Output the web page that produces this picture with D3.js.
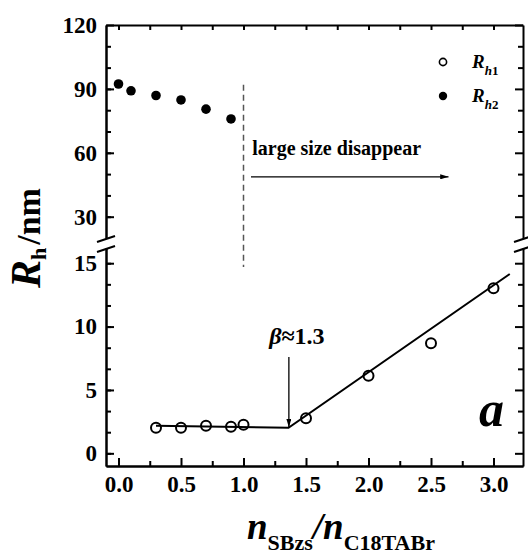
<!DOCTYPE html>
<html>
<head>
<meta charset="utf-8">
<script src="https://cdn.jsdelivr.net/npm/d3@7"></script>
<style>
  body { margin: 0; background: #fff; }
  svg { display: block; }
  text { font-family: "Liberation Serif", "Times New Roman", serif; font-weight: bold; fill: #000; }
  .axis text { font-size: 23px; }
  .axis path, .axis line { stroke: #000; stroke-width: 2; }
</style>
</head>
<body>
<script>
// Rh2 (large aggregates, filled)
var xRh2 = [0, 0.1, 0.3, 0.5, 0.7, 0.9];
var rh2 = [92.3, 89.1, 86.9, 84.8, 80.5, 75.9];
// Rh1 (small aggregates, open)
var xRh1 = [0.3, 0.5, 0.7, 0.9, 1.0, 1.5, 2.0, 2.5, 3.0];
var rh1 = [2.02, 2.02, 2.18, 2.1, 2.26, 2.76, 6.12, 8.68, 13.02];
// fitted line
var fitX = [0.3, 1.36, 3.13];
var fitY = [2.18, 2.02, 14.15];

var xTicks = [0, 0.5, 1.0, 1.5, 2.0, 2.5, 3.0];
var topTicks = [30, 60, 90, 120];
var bottomTicks = [0, 5, 10, 15];

var width = 528,
  height = 554,
  left = 106,
  right = 523,
  plotTop = 25,
  topEnd = 238,
  botStart = 248,
  bottom = 466;

var svg = d3.select('body').append('svg').attr('width', width).attr('height', height);

var x = d3.scaleLinear().domain([-0.1, 3.236]).range([left, right]);
var yTop = d3.scaleLinear().domain([20, 120]).range([topEnd, plotTop]);
var yBot = d3.scaleLinear().domain([-1, 16.2]).range([bottom, botStart]);

function minorRange(a, b, step) {
  var out = [];
  for (var v = a; v <= b + 1e-9; v += step) out.push(+v.toFixed(4));
  return out;
}

// top panel left/right axes
svg.append('g').attr('class', 'axis').attr('transform', 'translate(' + left + ',0)')
  .call(d3.axisLeft(yTop).tickValues(topTicks).tickSize(-8).tickSizeOuter(0).tickPadding(9));
svg.append('g').attr('class', 'axis').attr('transform', 'translate(' + left + ',0)')
  .call(d3.axisLeft(yTop).tickValues(minorRange(30, 110, 10)).tickSize(-5).tickSizeOuter(0).tickFormat(''));
svg.append('g').attr('class', 'axis').attr('transform', 'translate(' + right + ',0)')
  .call(d3.axisRight(yTop).tickValues(minorRange(30, 120, 10)).tickSize(-5).tickSizeOuter(0).tickFormat(''))
  .call(function(g) { g.selectAll('.tick line').attr('x2', function(d) { return topTicks.indexOf(d) >= 0 ? -8 : -5; }); });

// bottom panel left/right axes
svg.append('g').attr('class', 'axis').attr('transform', 'translate(' + left + ',0)')
  .call(d3.axisLeft(yBot).tickValues(bottomTicks).tickSize(-8).tickSizeOuter(0).tickPadding(9));
svg.append('g').attr('class', 'axis').attr('transform', 'translate(' + left + ',0)')
  .call(d3.axisLeft(yBot).tickValues(minorRange(0, 15, 5 / 3)).tickSize(-5).tickSizeOuter(0).tickFormat(''));
svg.append('g').attr('class', 'axis').attr('transform', 'translate(' + right + ',0)')
  .call(d3.axisRight(yBot).tickValues(minorRange(0, 15, 5 / 3)).tickSize(-5).tickSizeOuter(0).tickFormat(''))
  .call(function(g) { g.selectAll('.tick line').attr('x2', function(d) { return Math.abs(d % 5) < 1e-3 || Math.abs(d % 5 - 5) < 1e-3 ? -8 : -5; }); });

// x axes (bottom + top mirror)
svg.append('g').attr('class', 'axis').attr('transform', 'translate(0,' + bottom + ')')
  .call(d3.axisBottom(x).tickValues(xTicks).tickSize(-8).tickSizeOuter(0).tickPadding(10).tickFormat(d3.format('.1f')));
svg.append('g').attr('class', 'axis').attr('transform', 'translate(0,' + bottom + ')')
  .call(d3.axisBottom(x).tickValues(minorRange(0.25, 3.0, 0.5)).tickSize(-5).tickSizeOuter(0).tickFormat(''));
svg.append('g').attr('class', 'axis').attr('transform', 'translate(0,' + plotTop + ')')
  .call(d3.axisTop(x).tickValues(minorRange(0, 3.0, 0.25)).tickSize(-5).tickSizeOuter(0).tickFormat(''));

// break marks
[left, right].forEach(function(bx) {
  [topEnd + 1, botStart + 1].forEach(function(by) {
    svg.append('line')
      .attr('x1', bx - 9).attr('y1', by + 3)
      .attr('x2', bx + 9).attr('y2', by - 3)
      .style('stroke', '#000').style('stroke-width', 2);
  });
});

// dashed divider
svg.append('line')
  .attr('x1', x(1.0)).attr('x2', x(1.0))
  .attr('y1', yTop(91.9)).attr('y2', yBot(14.7))
  .style('stroke', '#555').style('stroke-width', 1.5).style('stroke-dasharray', '6,4');

// arrow markers
var defs = svg.append('defs');
defs.append('marker').attr('id', 'arr').attr('viewBox', '0 0 10 6')
  .attr('refX', 10).attr('refY', 3).attr('markerWidth', 12).attr('markerHeight', 5)
  .attr('markerUnits', 'userSpaceOnUse').attr('orient', 'auto')
  .append('path').attr('d', 'M0,0L10,3L0,6Z').style('fill', '#000');

svg.append('line')
  .attr('x1', x(1.06)).attr('x2', x(2.64))
  .attr('y1', yTop(48.7)).attr('y2', yTop(48.7))
  .style('stroke', '#000').style('stroke-width', 1.3)
  .attr('marker-end', 'url(#arr)');

svg.append('text')
  .attr('x', x(1.07)).attr('y', yTop(59))
  .style('font-size', '20px')
  .text('large size disappear');

// fitted line
var line = d3.line().x(function(d) { return x(d[0]); }).y(function(d) { return yBot(d[1]); });
svg.append('path')
  .datum(d3.zip(fitX, fitY))
  .attr('d', line)
  .style('fill', 'none').style('stroke', '#000').style('stroke-width', 2);

// beta annotation arrow
svg.append('line')
  .attr('x1', x(1.363)).attr('x2', x(1.363))
  .attr('y1', yBot(7.6)).attr('y2', yBot(2.05))
  .style('stroke', '#000').style('stroke-width', 1.3)
  .attr('marker-end', 'url(#arr)');

var beta = svg.append('text')
  .attr('x', x(1.363) + 8).attr('y', yBot(8.6))
  .attr('text-anchor', 'middle')
  .style('font-size', '24px');
beta.append('tspan').style('font-style', 'italic').text('β');
beta.append('tspan').text('≈1.3');

// points
svg.append('g').selectAll('circle')
  .data(d3.zip(xRh2, rh2)).enter().append('circle')
  .attr('cx', function(d) { return x(d[0]); })
  .attr('cy', function(d) { return yTop(d[1]); })
  .attr('r', 4.8).style('fill', '#000');

svg.append('g').selectAll('circle')
  .data(d3.zip(xRh1, rh1)).enter().append('circle')
  .attr('cx', function(d) { return x(d[0]); })
  .attr('cy', function(d) { return yBot(d[1]); })
  .attr('r', 5).style('fill', 'none').style('stroke', '#000').style('stroke-width', 2);

// legend
var legend = svg.append('g');
legend.append('circle').attr('cx', 443).attr('cy', 62).attr('r', 3.6)
  .style('fill', 'none').style('stroke', '#000').style('stroke-width', 1.6);
legend.append('circle').attr('cx', 443).attr('cy', 96).attr('r', 4.2).style('fill', '#000');
[['h1', 68], ['h2', 102]].forEach(function(l) {
  var t = legend.append('text').attr('x', 472).attr('y', l[1]).style('font-size', '19px');
  t.append('tspan').style('font-style', 'italic').text('R');
  t.append('tspan').style('font-style', 'italic').style('font-size', '13px').attr('dy', 7).text(l[0].charAt(0));
  t.append('tspan').style('font-size', '13px').text(l[0].charAt(1));
});

// panel letter
svg.append('text').attr('x', 479).attr('y', 426)
  .style('font-size', '50px').style('font-style', 'italic').text('a');

// y title
var yt = svg.append('text')
  .attr('transform', 'translate(40,288) rotate(-90)');
yt.append('tspan').style('font-style', 'italic').style('font-size', '42px').text('R');
yt.append('tspan').style('font-size', '22px').attr('dy', 6).text('h');
yt.append('tspan').style('font-size', '34px').attr('dy', -6).attr('dx', 3).text('/nm');

// x title
var xt = svg.append('text').attr('x', 247).attr('y', 539);
xt.append('tspan').style('font-style', 'italic').style('font-size', '37px').text('n');
xt.append('tspan').style('font-size', '22px').attr('dy', 11).text('SBzs');
xt.append('tspan').style('font-style', 'italic').style('font-size', '37px').attr('dy', -11).text('/n');
xt.append('tspan').style('font-size', '22px').attr('dy', 11).text('C18TABr');
</script>
</body>
</html>
